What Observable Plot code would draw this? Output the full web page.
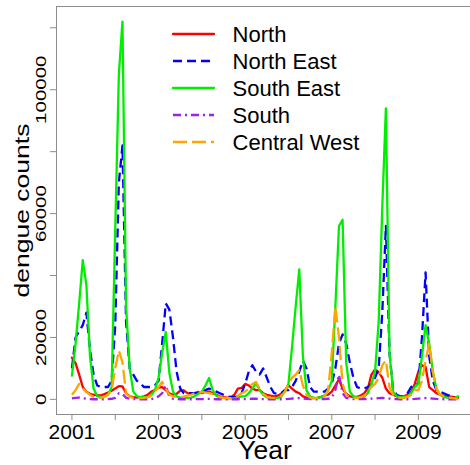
<!DOCTYPE html>
<html><head><meta charset="utf-8">
<script src="https://cdn.jsdelivr.net/npm/d3@7"></script>
<script src="https://cdn.jsdelivr.net/npm/@observablehq/plot@0.6"></script>
<style>
html,body{margin:0;padding:0;background:#fff;overflow:hidden;}
#chart svg{max-width:none !important;display:block;font-family:"Liberation Sans",Arial,sans-serif;}
</style></head><body><div id="chart"></div>
<script>
// ---- data (monthly dengue counts, Jan 2001 .. Dec 2009) ----
const years = [2001, 2002, 2003, 2004, 2005, 2006, 2007, 2008, 2009];
const seriesNames = ["North", "North East", "South East", "South", "Central West"];
const xTickLabels = ["2001", "", "2003", "", "2005", "", "2007", "", "2009"];
const yTicks = [0, 20000, 40000, 60000, 80000, 100000, 120000];
const yTickLabels = ["0", "20000", "", "60000", "", "100000", ""];

const north = [
13500, 11700, 8000, 4000, 2500, 1800, 1500, 1300, 1300, 1700, 2200, 2800,
3500, 4300, 4200, 2000, 1000, 700, 600, 700, 1000, 1500, 2500, 3000,
3800, 4000, 3000, 2000, 1500, 1800, 2800, 2900, 2000, 1800, 2000, 2400,
2000, 2500, 2500, 2000, 1500, 1000, 700, 600, 600, 1500, 3500, 3700,
5000, 4500, 3500, 3000, 3000, 2000, 1500, 1200, 1000, 1200, 1800, 3000,
4500, 3500, 2500, 2000, 1000, 600, 400, 400, 500, 800, 1200, 1500,
2500, 4500, 6500, 3500, 1800, 1000, 800, 800, 1200, 2000, 3500, 8000,
9700, 8700, 7000, 3500, 2000, 1500, 1000, 800, 1000, 1500, 2500, 5000,
9000, 11000, 10500, 4000, 3000, 2000, 1500, 1200, 1000, 900, 700, 500];

const northEast = [
10000, 20000, 22000, 24000, 28000, 16000, 8000, 4500, 4000, 4000, 4000, 6000,
24000, 70000, 82000, 25000, 10000, 8000, 6000, 5000, 4000, 4000, 4000, 4500,
6000, 18000, 31000, 29000, 20000, 9000, 3500, 2000, 2000, 2000, 2000, 2000,
2500, 3000, 3500, 3000, 2500, 2000, 1500, 1000, 800, 700, 1000, 2000,
5000, 9000, 11000, 9000, 8000, 10000, 7000, 4000, 2000, 1800, 2000, 3000,
3000, 4000, 6000, 9000, 12500, 10000, 4000, 2500, 2500, 2500, 2500, 3500,
5000, 10000, 18000, 21000, 18000, 12000, 7000, 4000, 3500, 3500, 4000, 5000,
7000, 10000, 28000, 56000, 15000, 3000, 1500, 1000, 1000, 2000, 4000, 5000,
5000, 20000, 41000, 14000, 6000, 3000, 2500, 2000, 1500, 1000, 500, 300];

const southEast = [
7700, 18000, 31000, 45000, 37000, 14000, 3500, 1000, 800, 900, 1500, 4000,
55000, 105000, 122000, 30000, 10000, 2500, 1000, 700, 700, 800, 1500, 3000,
7000, 15000, 21700, 8500, 2500, 1000, 600, 500, 500, 600, 1000, 1800,
2500, 4500, 6900, 3000, 1200, 600, 400, 300, 300, 400, 600, 1000,
1000, 2000, 3500, 5300, 3000, 1500, 700, 500, 400, 500, 900, 2500,
5000, 17000, 30000, 42000, 14000, 3000, 900, 600, 500, 700, 1200, 3000,
6000, 30000, 56000, 58000, 12000, 2500, 1000, 600, 600, 900, 2000, 5000,
9000, 25000, 62000, 94000, 15000, 2500, 1000, 700, 700, 1000, 2000, 4000,
5000, 14000, 24000, 18000, 9000, 3500, 1500, 800, 600, 500, 300, 1000];

const south = [
300, 500, 600, 400, 200, 100, 50, 50, 50, 50, 100, 200,
500, 2000, 1800, 500, 200, 100, 50, 50, 50, 50, 100, 300,
1000, 2000, 4500, 800, 200, 100, 50, 50, 50, 50, 50, 100,
100, 150, 150, 100, 50, 50, 30, 30, 30, 30, 50, 80,
100, 150, 200, 200, 150, 80, 50, 30, 30, 30, 50, 80,
150, 250, 350, 400, 300, 150, 80, 50, 50, 50, 100, 200,
500, 3000, 8000, 2000, 500, 200, 100, 80, 80, 100, 150, 250,
300, 400, 500, 400, 250, 150, 80, 50, 50, 50, 80, 150,
250, 350, 400, 350, 250, 150, 80, 50, 50, 40, 30, 30];

const centralWest = [
1500, 3000, 5000, 3500, 2400, 1500, 800, 500, 500, 800, 1500, 3000,
10000, 15800, 12000, 2000, 800, 500, 400, 400, 500, 700, 1200, 2500,
4000, 5600, 3500, 1500, 1000, 800, 800, 900, 1200, 1500, 2000, 2300,
2400, 2200, 2000, 1700, 1200, 700, 500, 400, 400, 600, 1200, 2000,
2500, 3500, 5000, 5600, 3500, 1800, 900, 600, 500, 700, 1200, 2500,
5000, 7000, 8000, 9400, 4500, 1500, 600, 400, 400, 500, 900, 3000,
15000, 30000, 20000, 5000, 1500, 800, 500, 500, 700, 1200, 2500, 4000,
5000, 7000, 11000, 12600, 4000, 1500, 700, 500, 500, 800, 1500, 3000,
3000, 6000, 12600, 18000, 9000, 3500, 1500, 1000, 700, 500, 300, 100];

// ---- styles ----
const seriesValues = [north, northEast, southEast, south, centralWest];
const seriesColors = ["#FF0000", "#0000FF", "#00EE00", "#A020F0", "#FFA500"];
const seriesDash = [null, "9,5", null, "8,4,2,4", "14,5"];

const rows = seriesNames.map((name, s) =>
  seriesValues[s].map((v, i) => ({series: name, t: years[0] + i / 12, value: v})));

const allT = rows.flat().map(d => d.t);
const tMin = d3.min(allT), tMax = d3.max(allT);
const tPad = 0.04 * (tMax - tMin);
const vMax = d3.max(rows.flat(), d => d.value);
const vPad = 0.04 * (vMax - 0);

const yLabelRows = yTicks.map((v, i) => ({v, label: yTickLabels[i]})).filter(d => d.label);
const xLabelByYear = new Map(years.map((y, i) => [y, xTickLabels[i]]));

const axisGray = "#8c8c8c";

const lineMarks = seriesNames.map((name, s) => Plot.line(rows[s], {
  x: "t", y: "value", stroke: seriesColors[s], strokeWidth: 2.3,
  strokeDasharray: seriesDash[s] || undefined,
  strokeLinejoin: "round", strokeLinecap: seriesDash[s] ? "butt" : "round"
}));

const plot = Plot.plot({
  width: 473, height: 465,
  marginLeft: 56, marginRight: 0, marginTop: 6, marginBottom: 51,
  style: {fontFamily: "Liberation Sans, Arial, sans-serif", background: "white"},
  x: {domain: [tMin - tPad, tMax + tPad]},
  y: {domain: [0 - vPad, vMax + vPad]},
  marks: [
    Plot.frame({stroke: axisGray, strokeWidth: 1}),
    Plot.axisX({ticks: years, tickFormat: d => xLabelByYear.get(d), tickSize: 6, tickPadding: 4,
      fontSize: 21, stroke: axisGray, fill: "black", label: null}),
    Plot.axisY({ticks: yTicks, tickFormat: () => "", tickSize: 6, stroke: axisGray, label: null}),
    Plot.text(yLabelRows, {y: "v", text: "label", frameAnchor: "left", dx: -15, rotate: -90,
      fontSize: 15, textAnchor: "middle", lineAnchor: "middle", fill: "black"}),
    Plot.text(["dengue counts"], {text: d => d, frameAnchor: "left", dx: -34, rotate: -90,
      fontSize: 21, textAnchor: "middle", lineAnchor: "middle", fill: "black"}),
    Plot.text(["Year"], {text: d => d, frameAnchor: "bottom", dy: 36.5,
      fontSize: 26.5, textAnchor: "middle", lineAnchor: "middle", fill: "black"}),
    ...lineMarks
  ]
});

const svg = d3.select(plot);
// stretch rotated texts along their length (as in the reference)
svg.selectAll("text").each(function() {
  const t = d3.select(this);
  const s = t.text();
  if (yTickLabels.includes(s) && s !== "") {
    t.attr("textLength", s.length * 11.4).attr("lengthAdjust", "spacingAndGlyphs");
  } else if (s === "dengue counts") {
    t.attr("textLength", 174).attr("lengthAdjust", "spacingAndGlyphs");
  }
});

// legend (no box)
const lg = svg.append("g").attr("font-family", "Liberation Sans, Arial, sans-serif")
  .attr("text-anchor", "start");
seriesNames.forEach((name, i) => {
  const y = 34 + 27 * i;
  lg.append("line").attr("x1", 173).attr("x2", 214).attr("y1", y).attr("y2", y)
    .attr("stroke", seriesColors[i]).attr("stroke-width", 2.3)
    .attr("stroke-dasharray", seriesDash[i])
    .attr("stroke-linecap", seriesDash[i] ? "butt" : "round");
  lg.append("text").attr("x", 232.6).attr("y", y + 7.7).attr("font-size", 22)
    .attr("text-anchor", "start").attr("fill", "black").text(name);
});

document.getElementById("chart").appendChild(plot);
</script></body></html>
